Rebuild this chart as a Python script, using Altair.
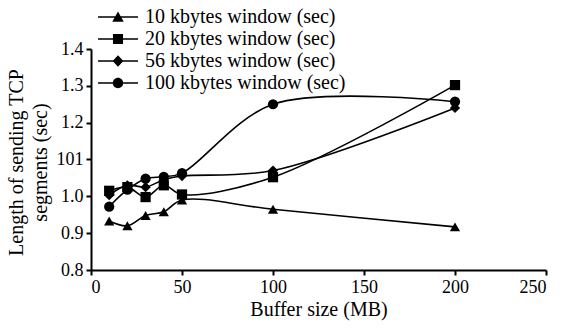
import altair as alt
import pandas as pd

buffer_mb = [10, 20, 30, 40, 50, 100, 200]
series_names = ["10 kbytes window (sec)", "20 kbytes window (sec)",
                "56 kbytes window (sec)", "100 kbytes window (sec)"]
w10 = [0.933, 0.920, 0.948, 0.958, 0.990, 0.965, 0.917]
w20 = [1.015, 1.025, 0.998, 1.030, 1.005, 1.052, 1.302]
w56 = [1.003, 1.030, 1.025, 1.045, 1.055, 1.070, 1.240]
w100 = [0.972, 1.018, 1.048, 1.053, 1.063, 1.250, 1.257]

rows = []
for name, vals in zip(series_names, [w10, w20, w56, w100]):
    for x, y in zip(buffer_mb, vals):
        rows.append({"series": name, "buffer": x, "length": y})
df = pd.DataFrame(rows)

FONT = "Liberation Serif"
marker_shapes = ["triangle-up", "square", "diamond", "circle"]
line_seg = "M-2.22,-0.09H2.22V0.09H-2.22Z"
legend_paths = [
    line_seg + "M-0.64,0.52L0,-0.6L0.64,0.52Z",
    line_seg + "M-0.56,-0.56H0.56V0.56H-0.56Z",
    line_seg + "M0,-0.64L0.6,0L0,0.64L-0.6,0Z",
    line_seg + "M0.58,0A0.58,0.58,0,1,1,-0.58,0A0.58,0.58,0,1,1,0.58,0Z",
]

x_enc = alt.X("buffer:Q", title="Buffer size (MB)",
              scale=alt.Scale(domain=[0, 250], nice=False),
              axis=alt.Axis(values=[0, 50, 100, 150, 200, 250], format="d"))
y_enc = alt.Y("length:Q", title=["Length of sending TCP", "segments (sec)"],
              scale=alt.Scale(domain=[0.8, 1.4], nice=False, zero=False),
              axis=alt.Axis(values=[0.8, 0.9, 1.0, 1.1, 1.2, 1.3, 1.4], titleY=113,
                            labelExpr="datum.value > 1.05 && datum.value < 1.15 ? '101' : format(datum.value, '.1f')"))

lines = alt.Chart(df).mark_line(interpolate="catmull-rom", color="black", strokeWidth=1.6).encode(
    x=x_enc, y=y_enc, detail="series:N")

points = alt.Chart(df).mark_point(filled=True, color="black", opacity=1, size=105).encode(
    x=x_enc, y=y_enc,
    shape=alt.Shape("series:N", scale=alt.Scale(domain=series_names, range=marker_shapes), legend=None))

legend_layer = alt.Chart(df).transform_filter("false").mark_point(
    filled=True, color="black", opacity=1, size=324).encode(
    x=x_enc, y=y_enc,
    shape=alt.Shape("series:N", scale=alt.Scale(domain=series_names, range=legend_paths),
                    legend=alt.Legend(title=None, orient="none", legendX=17, legendY=-42,
                                      symbolSize=324, labelOffset=17, rowPadding=2,
                                      symbolFillColor="black", symbolOpacity=1,
                                      labelFont=FONT, labelFontSize=20, labelColor="black",
                                      labelLimit=400)))

chart = alt.layer(lines, points, legend_layer).resolve_scale(shape="independent").properties(
    width=455, height=221,
    autosize=alt.AutoSizeParams(type="none"),
    padding={"left": 91, "top": 49, "right": 23, "bottom": 58},
).configure(font=FONT).configure_view(stroke=None).configure_axis(
    grid=False, domainColor="black", domainWidth=2, tickColor="black", tickWidth=2, tickSize=5,
    labelFont=FONT, labelFontSize=18, labelColor="black", titleFont=FONT, titleFontSize=20,
    titleColor="black", titleFontWeight="normal", labelPadding=3,
).configure_axisX(titlePadding=3).configure_axisY(titlePadding=6, titleLineHeight=24)

chart.save("out.html", embed_options={"renderer": "svg", "actions": False})
